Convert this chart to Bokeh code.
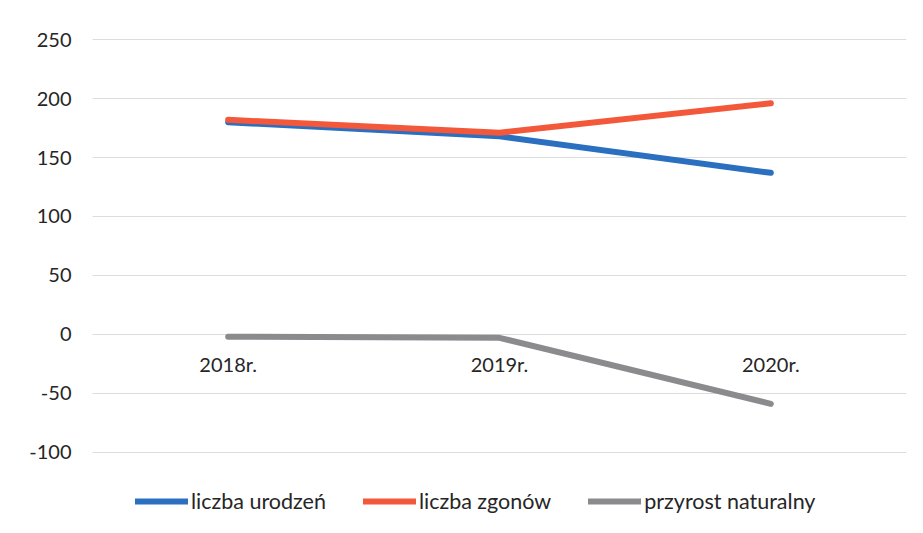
from bokeh.plotting import figure
from bokeh.models import FixedTicker, Legend, LegendItem, Range1d
from bokeh.embed import file_html
from bokeh.resources import INLINE

categories = ["2018r.", "2019r.", "2020r."]
urodzenia = [180, 168, 137]
zgony = [182, 171, 196]
przyrost = [-2, -3, -59]
y_ticks = [-100, -50, 0, 50, 100, 150, 200, 250]

FONT = "Lato"
xs = list(range(len(categories)))

p = figure(width=907, height=525, output_backend="svg", toolbar_location=None,
           x_range=Range1d(-0.5, len(categories) - 0.5), y_range=Range1d(-158, 251),
           min_border_left=92, min_border_right=1, min_border_top=38, min_border_bottom=5)
p.outline_line_color = None
p.background_fill_color = "white"
p.border_fill_color = "white"

r1 = p.line(xs, urodzenia, line_color="#2b6fc0", line_width=6, line_cap="round", line_join="round")
r2 = p.line(xs, zgony, line_color="#f4583b", line_width=6, line_cap="round", line_join="round")
r3 = p.line(xs, przyrost, line_color="#8b8b8d", line_width=6, line_cap="round", line_join="round")

# x axis at zero
p.xaxis.fixed_location = 0
p.xaxis.ticker = FixedTicker(ticks=xs)
p.xaxis.major_label_overrides = {i: c for i, c in zip(xs, categories)}
p.xaxis.axis_line_color = None
p.xaxis.major_tick_line_color = None
p.xaxis.minor_tick_line_color = None
p.xaxis.major_label_standoff = 12
p.xaxis.major_label_text_font = FONT
p.xaxis.major_label_text_font_size = "20px"
p.xaxis.major_label_text_color = "#262626"

p.yaxis.ticker = FixedTicker(ticks=y_ticks)
p.yaxis.major_label_overrides = {t: str(t) for t in y_ticks}
p.yaxis.axis_line_color = None
p.yaxis.major_tick_line_color = None
p.yaxis.minor_tick_line_color = None
p.yaxis.major_label_standoff = 15
p.yaxis.major_label_text_font = FONT
p.yaxis.major_label_text_font_size = "20px"
p.yaxis.major_label_text_color = "#262626"

p.xgrid.grid_line_color = None
p.ygrid.ticker = FixedTicker(ticks=y_ticks)
p.ygrid.grid_line_color = "#dcdcdc"
p.ygrid.grid_line_width = 1

legend = Legend(items=[LegendItem(label="liczba urodzeń", renderers=[r1]),
                       LegendItem(label="liczba zgonów", renderers=[r2]),
                       LegendItem(label="przyrost naturalny", renderers=[r3])],
                orientation="horizontal", location=(43, 6),
                label_text_font=FONT, label_text_font_size="21.5px", label_text_color="#262626",
                glyph_width=53, glyph_height=20, label_standoff=3, spacing=37,
                border_line_color=None, background_fill_alpha=0, padding=8, margin=0)
p.add_layout(legend, "center")

open("out.html", "w").write(file_html(p, INLINE))
